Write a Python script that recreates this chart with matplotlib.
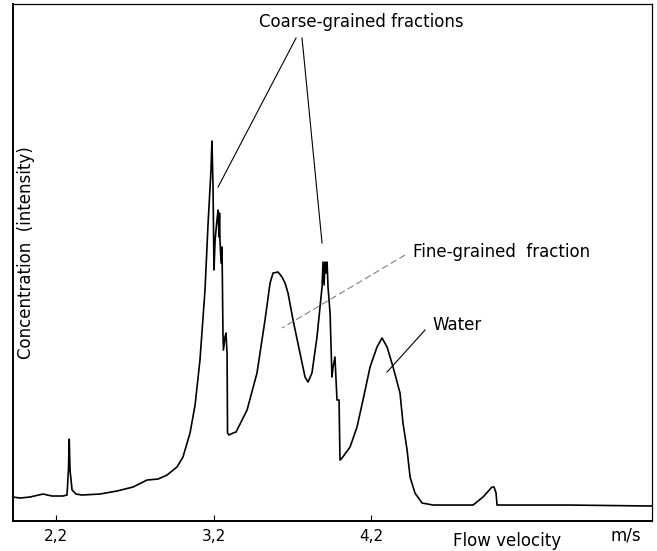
import matplotlib
matplotlib.use("Agg")
import matplotlib.pyplot as plt

# flow velocity (m/s) and detector intensity (arbitrary units)
velocity = [1.927, 1.971, 2.035, 2.117, 2.175, 2.244, 2.270, 2.279, 2.284, 2.289,
            2.302, 2.327, 2.365, 2.479, 2.587, 2.689, 2.778, 2.848, 2.905, 2.968,
            3.006, 3.051, 3.083, 3.114, 3.146, 3.165, 3.184, 3.190, 3.197, 3.203,
            3.210, 3.222, 3.229, 3.235, 3.238, 3.241, 3.248, 3.254, 3.260, 3.263,
            3.273, 3.279, 3.286, 3.289, 3.298, 3.324, 3.343, 3.413, 3.476, 3.527,
            3.559, 3.578, 3.610, 3.635, 3.654, 3.673, 3.705, 3.749, 3.781, 3.800,
            3.825, 3.857, 3.889, 3.895, 3.902, 3.908, 3.914, 3.921, 3.927, 3.940,
            3.946, 3.952, 3.959, 3.971, 3.978, 3.984, 3.997, 4.003, 4.016, 4.067,
            4.111, 4.149, 4.194, 4.238, 4.270, 4.302, 4.340, 4.384, 4.403, 4.429,
            4.448, 4.479, 4.524, 4.594, 4.848, 4.911, 4.968, 4.981, 4.994, 5.000,
            5.444, 5.984]
intensity = [24, 23, 24, 27, 25, 25, 26, 51, 82, 51,
             31, 27, 26, 27, 30, 34, 41, 42, 46, 54,
             64, 88, 116, 161, 231, 296, 351, 380, 334, 251,
             281, 301, 311, 284, 308, 281, 258, 274, 188, 171,
             184, 188, 168, 88, 86, 88, 89, 111, 148, 201,
             238, 248, 249, 244, 238, 228, 201, 168, 144, 139,
             148, 184, 234, 259, 236, 259, 248, 259, 234, 208,
             176, 144, 154, 164, 141, 121, 121, 61, 63, 74,
             94, 121, 154, 174, 183, 174, 154, 128, 98, 71,
             44, 28, 18, 16, 16, 24, 34, 34, 28, 16,
             16, 15]

tick_pos = [2.2, 3.2, 4.2]
tick_labels = ["2,2", "3,2", "4,2"]

fig = plt.figure(figsize=(6.57, 5.51), dpi=100)
ax = fig.add_axes([0.0198, 0.0544, 0.9726, 0.9383])

ax.plot(velocity, intensity, color="black", lw=1.2)
ax.set_xlim(1.927, 5.984)
ax.set_ylim(0, 517)

ax.set_xticks(tick_pos)
ax.set_xticklabels(tick_labels, fontsize=11)
ax.set_yticks([])
ax.tick_params(axis="x", direction="in", length=4, pad=6)

for side in ["left", "bottom"]:
    ax.spines[side].set_linewidth(1.4)
for side in ["top", "right"]:
    ax.spines[side].set_linewidth(0.9)

# labels
ax.text(0.02, 0.52, "Concentration  (intensity)", rotation=90, transform=ax.transAxes,
        ha="center", va="center", fontsize=12)
fig.text(507 / 657, 1 - 541 / 551, "Flow velocity", ha="center", va="center", fontsize=12)
fig.text(626 / 657, 1 - 535 / 551, "m/s", ha="center", va="center", fontsize=12)

# annotations
ax.text(4.137, 499, "Coarse-grained fractions", ha="center", va="center", fontsize=12)
ax.plot([3.724, 3.229], [483, 334], color="black", lw=0.8)
ax.plot([3.762, 3.889], [483, 278], color="black", lw=0.8)

ax.text(4.467, 269, "Fine-grained  fraction", ha="left", va="center", fontsize=12)
ax.plot([4.416, 3.635], [266, 193], color="gray", lw=0.8, ls=(0, (6, 3)))

ax.text(4.587, 196, "Water", ha="left", va="center", fontsize=12)
ax.plot([4.543, 4.302], [191, 149], color="black", lw=0.8)

plt.savefig("out.png", dpi=100)
